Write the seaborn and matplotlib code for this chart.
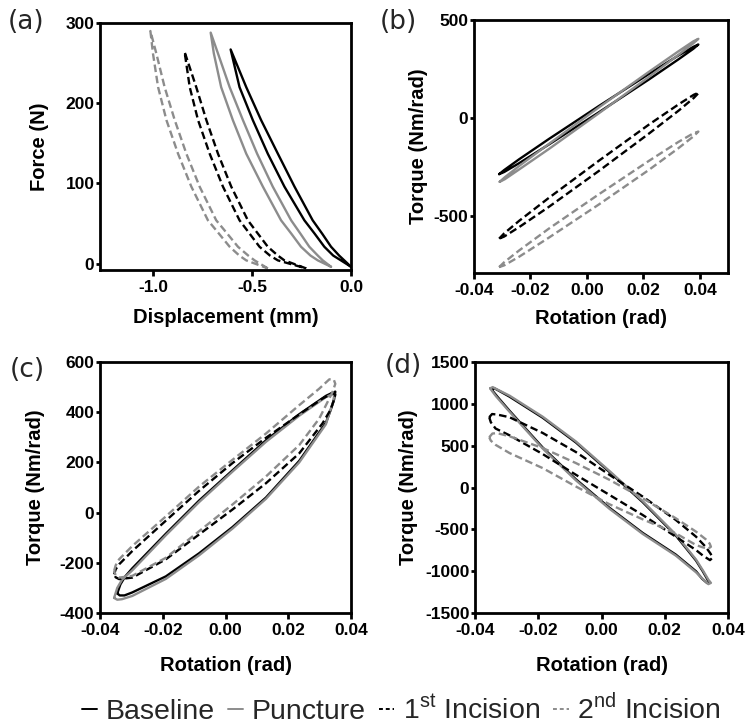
import matplotlib
matplotlib.use("Agg")
import matplotlib.pyplot as plt
from matplotlib.lines import Line2D
from matplotlib.ticker import FormatStrFormatter
import pandas as pd
import seaborn as sns

# ---------------- data ----------------
CONDITIONS = ["Baseline", "Puncture", "1st Incision", "2nd Incision"]
LEGEND_LABELS = ["Baseline", "Puncture",
                 r"1$^{\mathrm{st}}$ Incision", r"2$^{\mathrm{nd}}$ Incision"]

# (a) Force vs displacement loops
a_base_disp = [0.000, -0.034, -0.060, -0.101, -0.145, -0.194, -0.286, -0.370, -0.455, -0.530, -0.609,
               -0.564, -0.497, -0.421, -0.337, -0.236, -0.183, -0.135, -0.090, -0.051, 0.000]
a_base_force = [-4, 4, 10, 21, 37, 54, 96, 137, 179, 220, 267,
                220, 179, 137, 96, 54, 37, 21, 10, 4, -4]
a_punc_disp = [-0.101, -0.143, -0.168, -0.211, -0.255, -0.303, -0.396, -0.475, -0.547, -0.614,
               -0.673, -0.710, -0.694, -0.657, -0.598, -0.530, -0.446, -0.354, -0.301, -0.253,
               -0.205, -0.168, -0.101]
a_punc_force = [-4, 4, 10, 21, 37, 54, 96, 137, 179, 220, 262, 288,
                262, 220, 179, 137, 96, 54, 37, 21, 10, 4, -4]
a_inc1_disp = [-0.227, -0.337, -0.370, -0.421, -0.470, -0.522, -0.606, -0.673, -0.732, -0.783, -0.842,
               -0.816, -0.774, -0.715, -0.648, -0.564, -0.512, -0.463, -0.410, -0.370, -0.227]
a_inc1_force = [-6, 4, 10, 21, 37, 54, 96, 137, 179, 220, 264,
                220, 179, 137, 96, 54, 37, 21, 10, 4, -6]
a_inc2_disp = [-0.421, -0.488, -0.520, -0.572, -0.625, -0.682, -0.766, -0.833, -0.892, -0.943,
               -0.985, -1.015, -1.002, -0.976, -0.934, -0.875, -0.808, -0.724, -0.667, -0.614,
               -0.565, -0.530, -0.421]
a_inc2_force = [-6, 4, 10, 21, 37, 54, 96, 137, 179, 220, 262, 290,
                262, 220, 179, 137, 96, 54, 37, 21, 10, 4, -6]

# (b) Torque vs rotation loops
b_base_rot = [-0.0311, -0.0293, -0.0240, -0.0135, 0.0042, 0.0219, 0.0324, 0.0377, 0.0395,
              0.0377, 0.0324, 0.0219, 0.0042, -0.0135, -0.0240, -0.0293, -0.0311]
b_base_torque = [-286, -265, -210, -107, 61, 224, 319, 363, 375,
                 353, 299, 196, 29, -135, -230, -275, -286]
b_punc_rot = [-0.0309, -0.0291, -0.0239, -0.0133, 0.0043, 0.0219, 0.0325, 0.0377, 0.0395,
              0.0377, 0.0325, 0.0219, 0.0043, -0.0133, -0.0239, -0.0291, -0.0309]
b_punc_torque = [-325, -302, -243, -130, 55, 235, 341, 391, 404,
                 381, 323, 209, 25, -156, -261, -312, -325]
b_inc1_rot = [-0.0311, -0.0293, -0.0240, -0.0134, 0.0043, 0.0220, 0.0326, 0.0379, 0.0397,
              0.0379, 0.0326, 0.0220, 0.0043, -0.0134, -0.0240, -0.0293, -0.0311]
b_inc1_torque = [-615, -588, -524, -406, -217, -33, 71, 119, 130,
                 103, 39, -79, -269, -452, -556, -604, -615]
b_inc2_rot = [-0.0311, -0.0293, -0.0240, -0.0135, 0.0042, 0.0219, 0.0324, 0.0377, 0.0395,
              0.0377, 0.0324, 0.0219, 0.0042, -0.0135, -0.0240, -0.0293, -0.0311]
b_inc2_torque = [-760, -735, -675, -564, -389, -219, -122, -78, -69,
                 -94, -154, -265, -441, -610, -707, -751, -760]

# (c) Torque vs rotation loops
c_base_rot = [-0.0345, -0.0335, -0.0320, -0.0297, -0.0190, -0.0084, 0.0022, 0.0129, 0.0235, 0.0320,
              0.0340, 0.0350, 0.0346, 0.0335, 0.0320, 0.0235, 0.0129, 0.0022, -0.0084, -0.0190,
              -0.0297, -0.0322, -0.0337, -0.0345]
c_base_torque = [-322, -286, -255, -222, -84, 48, 168, 288, 392, 465,
                 477, 482, 450, 408, 358, 206, 60, -58, -162, -254,
                 -318, -330, -330, -322]
c_punc_rot = [-0.0355, -0.0345, -0.0330, -0.0297, -0.0190, -0.0084, 0.0022, 0.0129, 0.0235, 0.0320,
              0.0338, 0.0347, 0.0343, 0.0332, 0.0320, 0.0235, 0.0129, 0.0022, -0.0084, -0.0190,
              -0.0297, -0.0330, -0.0345, -0.0355]
c_punc_torque = [-340, -300, -268, -230, -90, 42, 163, 282, 386, 460,
                 470, 472, 440, 400, 352, 200, 55, -64, -170, -264,
                 -332, -345, -347, -340]
c_inc1_rot = [-0.0355, -0.0350, -0.0339, -0.0297, -0.0190, -0.0084, 0.0022, 0.0129, 0.0235, 0.0309,
              0.0341, 0.0350, 0.0346, 0.0335, 0.0309, 0.0235, 0.0129, 0.0022, -0.0084, -0.0190,
              -0.0297, -0.0339, -0.0350, -0.0355]
c_inc1_torque = [-246, -226, -206, -153, -32, 87, 197, 298, 391, 454,
                 476, 470, 450, 410, 355, 236, 117, 12, -87, -186,
                 -259, -265, -258, -246]
c_inc2_rot = [-0.0355, -0.0350, -0.0339, -0.0297, -0.0190, -0.0084, 0.0022, 0.0129, 0.0235, 0.0299,
              0.0331, 0.0345, 0.0350, 0.0341, 0.0299, 0.0235, 0.0129, 0.0022, -0.0084, -0.0190,
              -0.0297, -0.0339, -0.0350, -0.0355]
c_inc2_torque = [-232, -210, -186, -133, -15, 104, 210, 315, 428, 494,
                 531, 530, 513, 480, 375, 269, 144, 32, -74, -180,
                 -252, -259, -250, -232]

# (d) Torque vs rotation loops
d_base_rot = [-0.0347, -0.0339, -0.0326, -0.0291, -0.0186, -0.0081, 0.0025, 0.0130, 0.0235, 0.0299,
              0.0320, 0.0336, 0.0342, 0.0334, 0.0318, 0.0299, 0.0235, 0.0130, 0.0025, -0.0081,
              -0.0186, -0.0291, -0.0328, -0.0342, -0.0347]
d_base_torque = [1172, 1186, 1160, 1086, 834, 538, 186, -174, -574, -874,
                 -1000, -1105, -1128, -1142, -1090, -1002, -802, -542, -242, 98,
                 478, 918, 1080, 1145, 1172]
d_punc_rot = [-0.0352, -0.0344, -0.0330, -0.0291, -0.0186, -0.0081, 0.0025, 0.0130, 0.0235, 0.0299,
              0.0322, 0.0340, 0.0346, 0.0338, 0.0322, 0.0299, 0.0235, 0.0130, 0.0025, -0.0081,
              -0.0186, -0.0291, -0.0333, -0.0347, -0.0352]
d_punc_torque = [1185, 1200, 1172, 1098, 846, 550, 198, -162, -562, -862,
                 -1000, -1115, -1140, -1155, -1100, -1014, -814, -554, -254, 86,
                 466, 906, 1088, 1158, 1185]
d_inc1_rot = [-0.0355, -0.0346, -0.0330, -0.0291, -0.0186, -0.0081, 0.0025, 0.0130, 0.0235, 0.0299,
              0.0330, 0.0345, 0.0351, 0.0343, 0.0322, 0.0299, 0.0235, 0.0130, 0.0025, -0.0081,
              -0.0186, -0.0291, -0.0335, -0.0350, -0.0355]
d_inc1_torque = [840, 878, 872, 840, 652, 424, 152, -108, -388, -588,
                 -712, -792, -840, -868, -818, -748, -588, -328, -88, 152,
                 400, 624, 705, 780, 840]
d_inc2_rot = [-0.0355, -0.0345, -0.0330, -0.0291, -0.0186, -0.0081, 0.0025, 0.0130, 0.0235, 0.0299,
              0.0330, 0.0342, 0.0346, 0.0338, 0.0320, 0.0299, 0.0235, 0.0130, 0.0025, -0.0081,
              -0.0186, -0.0291, -0.0335, -0.0350, -0.0355]
d_inc2_torque = [600, 645, 650, 612, 472, 292, 92, -128, -368, -528,
                 -620, -670, -708, -730, -715, -688, -548, -380, -200, 12,
                 232, 412, 510, 560, 600]

# tick values
a_xticks = [-1.0, -0.5, 0.0]
a_yticks = [0, 100, 200, 300]
rot_xticks = [-0.04, -0.02, 0.00, 0.02, 0.04]
b_yticks = [-500, 0, 500]
c_yticks = [-400, -200, 0, 200, 400, 600]
d_yticks = [-1500, -1000, -500, 0, 500, 1000, 1500]

# ---------------- style ----------------
sns.set_theme(style="ticks")
plt.rcParams["font.family"] = ["Liberation Sans", "DejaVu Sans"]
plt.rcParams["mathtext.fontset"] = "custom"
plt.rcParams["mathtext.rm"] = "Liberation Sans"
plt.rcParams["axes.unicode_minus"] = False

GRAY = "#8c8c8c"
PALETTE = {"Baseline": "black", "Puncture": GRAY, "1st Incision": "black", "2nd Incision": GRAY}
DASHES = {"Baseline": "", "Puncture": "", "1st Incision": (3.2, 1.6), "2nd Incision": (3.2, 1.6)}
LW = 1.7


def frame(series):
    rows = []
    for cond, (xs, ys) in zip(CONDITIONS, series):
        for x, y in zip(xs, ys):
            rows.append({"x": x, "y": y, "cond": cond})
    return pd.DataFrame(rows)


panels = [
    dict(series=[(a_base_disp, a_base_force), (a_punc_disp, a_punc_force),
                 (a_inc1_disp, a_inc1_force), (a_inc2_disp, a_inc2_force)],
         rect=[100, 23, 351, 270], xlim=(-1.27, 0.0), ylim=(-8, 300),
         xticks=a_xticks, yticks=a_yticks, xfmt="%.1f",
         xlabel="Displacement (mm)", ylabel="Force (N)",
         ylab_x=-0.203, xlab_y=-0.154, letter="(a)", lpos=(8, 22)),
    dict(series=[(b_base_rot, b_base_torque), (b_punc_rot, b_punc_torque),
                 (b_inc1_rot, b_inc1_torque), (b_inc2_rot, b_inc2_torque)],
         rect=[474, 20, 728, 273], xlim=(-0.04, 0.05), ylim=(-790, 500),
         xticks=rot_xticks, yticks=b_yticks, xfmt="%.2f",
         xlabel="Rotation (rad)", ylabel="Torque (Nm/rad)",
         ylab_x=-0.182, xlab_y=-0.142, letter="(b)", lpos=(380, 22)),
    dict(series=[(c_base_rot, c_base_torque), (c_punc_rot, c_punc_torque),
                 (c_inc1_rot, c_inc1_torque), (c_inc2_rot, c_inc2_torque)],
         rect=[100, 362, 351, 613], xlim=(-0.04, 0.04), ylim=(-400, 600),
         xticks=rot_xticks, yticks=c_yticks, xfmt="%.2f",
         xlabel="Rotation (rad)", ylabel="Torque (Nm/rad)",
         ylab_x=-0.221, xlab_y=-0.171, letter="(c)", lpos=(10, 370)),
    dict(series=[(d_base_rot, d_base_torque), (d_punc_rot, d_punc_torque),
                 (d_inc1_rot, d_inc1_torque), (d_inc2_rot, d_inc2_torque)],
         rect=[475, 362, 728, 613], xlim=(-0.04, 0.04), ylim=(-1500, 1500),
         xticks=rot_xticks, yticks=d_yticks, xfmt="%.2f",
         xlabel="Rotation (rad)", ylabel="Torque (Nm/rad)",
         ylab_x=-0.226, xlab_y=-0.171, letter="(d)", lpos=(385, 366)),
]

W, H = 750, 728
fig = plt.figure(figsize=(W / 100, H / 100), dpi=100)
fig.patch.set_facecolor("white")

for p in panels:
    l, t, r, b = p["rect"]
    ax = fig.add_axes([l / W, (H - b) / H, (r - l) / W, (b - t) / H])
    df = frame(p["series"])
    sns.lineplot(data=df, x="x", y="y", hue="cond", style="cond",
                 hue_order=CONDITIONS, style_order=CONDITIONS,
                 palette=PALETTE, dashes=DASHES, sort=False, estimator=None,
                 linewidth=LW, legend=False, ax=ax)
    for line in ax.get_lines():
        line.set_solid_joinstyle("round")
        line.set_dash_joinstyle("round")
    ax.set_xlim(*p["xlim"])
    ax.set_ylim(*p["ylim"])
    ax.set_xticks(p["xticks"])
    ax.set_yticks(p["yticks"])
    ax.xaxis.set_major_formatter(FormatStrFormatter(p["xfmt"]))
    ax.yaxis.set_major_formatter(FormatStrFormatter("%d"))
    for s in ax.spines.values():
        s.set_visible(True)
        s.set_linewidth(2.0)
        s.set_color("black")
    ax.tick_params(axis="x", direction="out", length=4, width=2, pad=3,
                   labelsize=12.5, colors="black")
    ax.tick_params(axis="y", direction="out", length=3, width=2, pad=1,
                   labelsize=12.5, colors="black")
    for lab in ax.get_xticklabels() + ax.get_yticklabels():
        lab.set_fontweight("bold")
    ax.set_xlabel(p["xlabel"], fontsize=14.5, fontweight="bold", color="black")
    ax.set_ylabel(p["ylabel"], fontsize=14.5, fontweight="bold", color="black")
    ax.yaxis.set_label_coords(p["ylab_x"], 0.5)
    ax.xaxis.set_label_coords(0.5, p["xlab_y"])
    ax.grid(False)
    fig.text(p["lpos"][0] / W, 1 - p["lpos"][1] / H, p["letter"],
             family=["DejaVu Sans"], fontsize=19, ha="left", va="center")

handles = [
    Line2D([], [], color="black", lw=1.4),
    Line2D([], [], color=GRAY, lw=1.4),
    Line2D([], [], color="black", lw=1.4, dashes=(2.0, 1.5)),
    Line2D([], [], color=GRAY, lw=1.4, dashes=(2.0, 1.5)),
]
fig.legend(handles, LEGEND_LABELS, loc="center", bbox_to_anchor=(0.535, 1 - 709 / H),
           ncol=4, frameon=False, fontsize=20.5, handlelength=0.55, handletextpad=0.3,
           columnspacing=0.45, borderaxespad=0, borderpad=0)

fig.savefig("out.png", dpi=100, facecolor="white")
